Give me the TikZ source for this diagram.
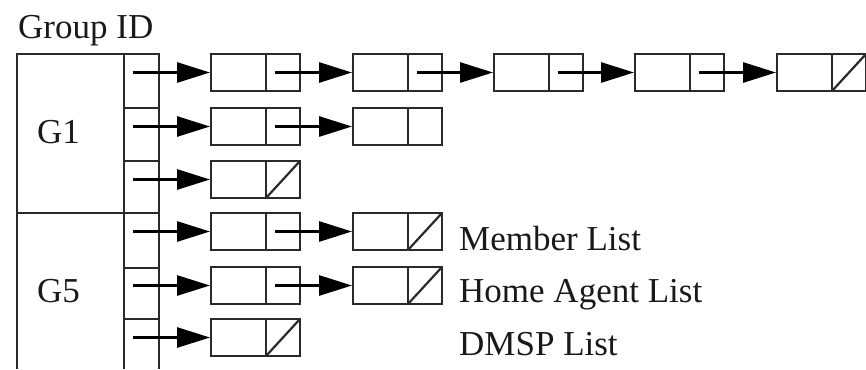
\documentclass[tikz,border=0pt]{standalone}
\usepackage{fontspec}
\setmainfont{Liberation Serif}
\usetikzlibrary{arrows.meta,calc}
\definecolor{ink}{HTML}{2A2A2A}
\tikzset{
  frame/.style={draw=ink, line width=2.6pt},
  cellbox/.style={draw=ink, line width=2.6pt, minimum width=89pt, minimum height=37pt, inner sep=0pt, outer sep=0pt},
  link/.style={draw=black, line width=2.8pt, -{Triangle[length=33pt,width=20pt]}, shorten >=1pt},
  txt/.style={font=\fontsize{35}{42}\selectfont, inner sep=0pt, anchor=base west, text=black!90},
}
\newcommand{\listbox}[4]{% name, left, top, null(1/0)
  \node[cellbox] (#1) at ({#2+44.5},{#3+18.5}) {};
  \draw[frame] ({#2+55},{#3}) -- ({#2+55},{#3+37});
  \coordinate (#1-p) at ({#2+64},{#3+18.5});
  \ifnum#4=1 \draw[draw=ink, line width=2.2pt] ({#2+55},{#3+37}) -- ({#2+89},{#3}); \fi
}
\begin{document}
\begin{tikzpicture}[x=1pt,y=-1pt]
\useasboundingbox (0,0) rectangle (866,369);
% group table
\node[txt] (gid) at (18,38) {Group ID};
\draw[frame] (17,369) -- (17,54) -- (159,54) -- (159,369);
\draw[frame] (124,54) -- (124,369);
\draw[frame] (17,213) -- (159,213);
\foreach \yy in {108,161,268,319} \draw[frame] (124,\yy) -- (159,\yy);
\node[txt] (g1) at (37,143) {G1};
\node[txt] (g5) at (37,302) {G5};
% slot start coordinates
\foreach \i/\yy in {1/72.5,2/126.5,3/179.5,4/231.5,5/285.5,6/337.5}
  \coordinate (s\i) at (133,\yy);
% row 1
\listbox{a1}{211}{54}{0}
\listbox{a2}{353}{54}{0}
\listbox{a3}{494}{54}{0}
\listbox{a4}{635}{54}{0}
\listbox{a5}{777}{54}{1}
% row 2
\listbox{b1}{211}{108}{0}
\listbox{b2}{353}{108}{0}
% row 3
\listbox{c1}{211}{161}{1}
% row 4
\listbox{d1}{211}{213}{0}
\listbox{d2}{353}{213}{1}
% row 5
\listbox{e1}{211}{267}{0}
\listbox{e2}{353}{267}{1}
% row 6
\listbox{f1}{211}{319}{1}
% connectors
\draw[link] (s1) -- (a1.west);
\draw[link] (a1-p) -- (a2.west);
\draw[link] (a2-p) -- (a3.west);
\draw[link] (a3-p) -- (a4.west);
\draw[link] (a4-p) -- (a5.west);
\draw[link] (s2) -- (b1.west);
\draw[link] (b1-p) -- (b2.west);
\draw[link] (s3) -- (c1.west);
\draw[link] (s4) -- (d1.west);
\draw[link] (d1-p) -- (d2.west);
\draw[link] (s5) -- (e1.west);
\draw[link] (e1-p) -- (e2.west);
\draw[link] (s6) -- (f1.west);
% labels
\node[txt] (ml) at (459,250) {Member List};
\node[txt] (hal) at (459,302) {Home Agent List};
\node[txt] (dl) at (459,355) {DMSP List};
\end{tikzpicture}
\end{document}
